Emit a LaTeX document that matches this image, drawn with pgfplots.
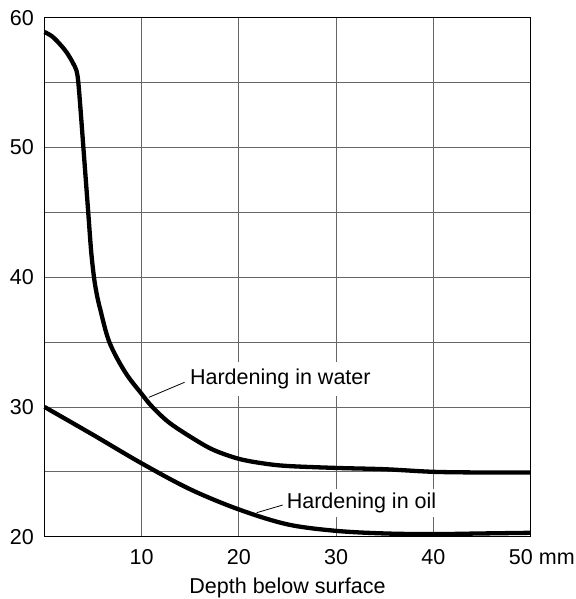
\documentclass[border=0pt]{standalone}
\usepackage{fontspec}
\setmainfont{Liberation Sans}
\usepackage{pgfplots}
\pgfplotsset{compat=1.18}

\newcommand{\chartfont}{\fontsize{21.6}{26}\selectfont}

\begin{document}
\begin{tikzpicture}
\begin{axis}[
    at={(0,0)}, anchor=south west,
    width=486bp, height=519bp,
    scale only axis,
    xmin=0, xmax=50,
    ymin=20, ymax=60,
    xtick={10,20,30,40,50},
    xticklabels={10,20,30,40,{\makebox[0pt][l]{\hspace*{-21.5bp}50 mm}}},
    ytick={20,25,...,60},
    yticklabels={20,,30,,40,,50,,60},
    grid=major,
    major grid style={black!60, line width=0.8bp},
    major tick length=0pt,
    axis line style={line width=0.9bp},
    /pgf/number format/assume math mode=true,
    every tick label/.append style={font=\chartfont},
    xticklabel style={inner sep=0pt, anchor=north, yshift=-12.6bp},
    yticklabel style={inner sep=0pt, anchor=east, xshift=-10.5bp},
    xlabel={Depth below surface},
    xlabel style={font=\chartfont, at={(axis description cs:0.5,0)}, anchor=base, yshift=-56.3bp},
    clip=false,
]

% water quenched
\addplot[line width=4.3bp, smooth, tension=0.55] coordinates {
    (0,58.9) (0.8,58.55) (1.6,57.95) (2.3,57.3) (2.9,56.55) (3.3,55.9)
    (3.48,55) (3.7,53) (4.0,50) (4.25,47.5) (4.5,45) (4.8,42)
    (5.09,40) (5.35,38.8) (5.71,37.6) (6.67,35) (8.28,32.7) (10,31.0)
    (11.1,30) (12.9,28.75) (15.66,27.4) (17.5,26.65) (20,26.0) (22.5,25.65)
    (25,25.45) (30,25.3) (35,25.2) (40,25.0) (45,24.95) (50,24.95)
};

% oil quenched
\addplot[line width=4.3bp, smooth, tension=0.55] coordinates {
    (0,30) (5,27.85) (10,25.65) (15,23.65) (20,22.1) (25,20.95)
    (30,20.45) (35,20.25) (40,20.2) (45,20.25) (50,20.3)
};

\draw[line width=0.8bp] (axis cs:10.74,30.74) -- (axis cs:14.41,31.9);
\node[anchor=base west, fill=white, inner xsep=1bp, inner ysep=7bp, font=\chartfont]
    at (axis cs:14.85,31.75) {Hardening in water};

\draw[line width=0.8bp] (axis cs:21.83,21.85) -- (axis cs:24.5,22.44);
\node[anchor=base west, fill=white, inner xsep=1bp, inner ysep=4bp, font=\chartfont]
    at (axis cs:24.8,22.19) {Hardening in oil};
\end{axis}
\pgfresetboundingbox
\path (current axis.south west) ++(-44.5bp,-62.3bp) rectangle ++(576bp,599bp);
\end{tikzpicture}
\end{document}
